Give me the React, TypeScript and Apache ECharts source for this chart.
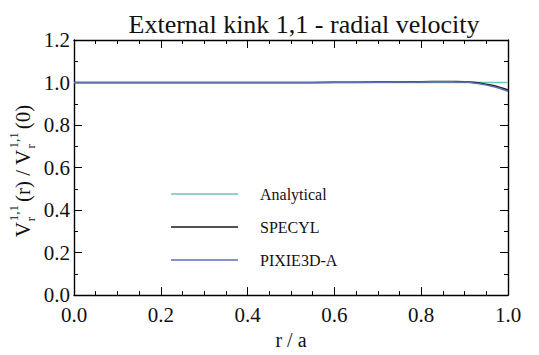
import React, { useEffect, useRef } from "react";
import * as echarts from "echarts";

// radial coordinate r / a
const radius = [0, 0.1, 0.2, 0.3, 0.4, 0.5, 0.6, 0.7, 0.75, 0.8, 0.85, 0.88, 0.9, 0.92, 0.94, 0.96, 0.98, 1.0];
// normalised radial velocity profiles
const analytical = [1.0, 1.0, 1.0, 1.0, 1.0, 1.0, 1.0, 1.0, 1.0, 1.0, 1.0, 1.0, 1.0, 1.0, 1.0, 1.0, 1.0, 1.0];
const specyl = [1.0, 1.0, 1.0, 1.0, 1.0, 1.0, 1.001, 1.002, 1.003, 1.004, 1.005, 1.005, 1.004, 1.001, 0.996, 0.988, 0.978, 0.965];
const pixie3d = [0.999, 0.999, 0.999, 0.999, 0.999, 0.999, 1.0, 1.001, 1.002, 1.003, 1.004, 1.003, 1.002, 0.998, 0.992, 0.984, 0.973, 0.959];

const seriesNames = ["Analytical", "SPECYL", "PIXIE3D-A"];
const seriesColors = ["#6cc3ba", "#1a1a1a", "#5d6fb5"];

const FONT = "serif";

// Times-style advance widths (in em) for the rotated y-axis title pieces
const EM_WIDTH: Record<string, number> = { "V": 0.722, "(r) / V": 2.5, "(0)": 1.166, "r": 0.333, "1,1": 1.25 };

// Rotated y-axis title: V_r^{1,1}(r) / V_r^{1,1}(0)
function buildYTitle() {
  const big = 21;
  const small = 13;
  const parts: any[] = [];
  let x = 0;
  const addMain = (t: string) => {
    parts.push({ type: "text", x, y: 0, style: { text: t, fontFamily: FONT, fontSize: big, fill: "#111", verticalAlign: "middle" } });
    x += EM_WIDTH[t] * big;
  };
  const addScripts = (sub: string, sup: string) => {
    parts.push({ type: "text", x: x + 1, y: 7, style: { text: sub, fontFamily: FONT, fontSize: small, fill: "#111", verticalAlign: "middle" } });
    parts.push({ type: "text", x: x + 1, y: -10, style: { text: sup, fontFamily: FONT, fontSize: small, fill: "#111", verticalAlign: "middle" } });
    x += Math.max(EM_WIDTH[sub], EM_WIDTH[sup]) * small + 4;
  };
  addMain("V");
  addScripts("r", "1,1");
  addMain("(r) / V");
  addScripts("r", "1,1");
  addMain("(0)");
  const total = x;
  return {
    type: "group",
    x: 23,
    y: 171 + total / 2,
    rotation: Math.PI / 2,
    children: parts,
  };
}

export default function App() {
  const ref = useRef<HTMLDivElement>(null);

  useEffect(() => {
    if (!ref.current) return;
    const chart = echarts.init(ref.current, undefined, { renderer: "svg" });

    const tickFont = { fontFamily: FONT, fontSize: 21, color: "#111" };
    const lineAxis = { lineStyle: { color: "#000", width: 1.4 } };

    const xCommon = {
      type: "value" as const,
      min: 0,
      max: 1,
      interval: 0.2,
      splitLine: { show: false },
      axisLine: { show: true, onZero: false, ...lineAxis },
      axisTick: { show: true, inside: true, length: 8, lineStyle: { color: "#000", width: 1 } },
      minorTick: { show: true, splitNumber: 4, length: 4, lineStyle: { color: "#000", width: 1 } },
    };
    const yCommon = {
      type: "value" as const,
      min: 0,
      max: 1.2,
      interval: 0.2,
      splitLine: { show: false },
      axisLine: { show: true, onZero: false, ...lineAxis },
      axisTick: { show: true, inside: true, length: 8, lineStyle: { color: "#000", width: 1 } },
      minorTick: { show: true, splitNumber: 2, length: 4, lineStyle: { color: "#000", width: 1 } },
    };

    const data = [analytical, specyl, pixie3d];

    chart.setOption({
      animation: false,
      backgroundColor: "#fff",
      textStyle: { fontFamily: FONT },
      title: {
        text: "External kink 1,1 - radial velocity",
        left: 299,
        textAlign: "center",
        top: 6,
        textStyle: { fontFamily: FONT, fontSize: 26, fontWeight: "normal", color: "#111" },
      },
      grid: { left: 74, right: 31, top: 40, bottom: 52 },
      xAxis: [
        {
          ...xCommon,
          position: "bottom",
          name: "r / a",
          nameLocation: "middle",
          nameGap: 29,
          nameTextStyle: { fontFamily: FONT, fontSize: 20, color: "#111" },
          axisLabel: { ...tickFont, margin: 9, formatter: (v: number) => v.toFixed(1) },
        },
        { ...xCommon, position: "top", axisLabel: { show: false } },
      ],
      yAxis: [
        {
          ...yCommon,
          position: "left",
          axisLabel: { ...tickFont, margin: 4, formatter: (v: number) => v.toFixed(1) },
        },
        { ...yCommon, position: "right", axisLabel: { show: false } },
      ],
      legend: {
        orient: "vertical",
        left: 166,
        top: 181,
        icon: "rect",
        itemWidth: 67,
        itemHeight: 1.5,
        itemGap: 17,
        textStyle: { fontFamily: FONT, fontSize: 16, color: "#111", padding: [0, 0, 0, 17] },
        data: seriesNames,
      },
      series: seriesNames.map((name, i) => ({
        name,
        type: "line",
        xAxisIndex: 0,
        yAxisIndex: 0,
        symbol: "none",
        smooth: 0.3,
        lineStyle: { color: seriesColors[i], width: 1.5 },
        itemStyle: { color: seriesColors[i] },
        data: radius.map((r, k) => [r, data[i][k]]),
      })),
      graphic: [buildYTitle()],
    });

    return () => chart.dispose();
  }, []);

  return <div ref={ref} style={{ width: 539, height: 355, margin: -8 }} />;
}
